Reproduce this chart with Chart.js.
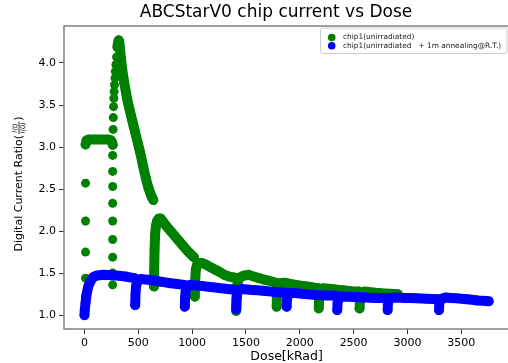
<!DOCTYPE html>
<html>
<head>
<meta charset="utf-8">
<script src="https://cdn.jsdelivr.net/npm/chart.js@4.4.0/dist/chart.umd.min.js"></script>
<style>
  html, body { margin: 0; padding: 0; background: #fff; overflow: hidden; }
  #wrap { width: 514px; height: 363px; }
</style>
</head>
<body>
<div id="wrap"><canvas id="doseChart" width="514" height="363"></canvas></div>
<script>
const chartTitle = 'ABCStarV0 chip current vs Dose';
const seriesLabels = ['chip1(unirradiated)', 'chip1(unirradiated   + 1m annealing@R.T.)'];
const xTicks = [0, 500, 1000, 1500, 2000, 2500, 3000, 3500];
const yTicks = [1.0, 1.5, 2.0, 2.5, 3.0, 3.5, 4.0];

// green runs that read as a solid stroke, null = break between runs
const greenLineDose = [
  10, 20, 40, 100, 160, 220, 245, 255, 262, null,
  306, 312, 318, 324, 330, 338, 350, 370, 395, 420, 445, 470, 495, 520, 545, 570, 595, 620, 640, null,
  646, 648, 651, 656, 663, 675, 692, 708, 725, 760, 800, 840, 880, 920, 960, 1000, 1016, null,
  1025, 1028, 1034, 1046, 1070, 1092, 1130, 1170, 1216, 1260, 1300, 1339, 1380, 1416, null,
  1409, 1412, 1418, 1430, 1447, 1480, 1524, 1570, 1620, 1678, 1740, 1790, 1816, null,
  1785, 1788, 1795, 1815, 1862, 1920, 1980, 2040, 2100, 2170, null,
  2176, 2180, 2190, 2215, 2260, 2330, 2400, 2480, 2550, null,
  2555, 2560, 2570, 2600, 2680, 2760, 2840, 2910
];
const greenLineRatio = [
  3.03, 3.08, 3.09, 3.09, 3.09, 3.09, 3.08, 3.06, 3.03, null,
  4.19, 4.24, 4.27, 4.25, 4.17, 4.06, 3.93, 3.76, 3.58, 3.44, 3.31, 3.18, 3.05, 2.92, 2.77, 2.63, 2.51, 2.42, 2.37, null,
  1.34, 1.55, 1.77, 1.95, 2.06, 2.12, 2.15, 2.15, 2.12, 2.06, 2.00, 1.94, 1.88, 1.82, 1.76, 1.71, 1.69, null,
  1.22, 1.40, 1.54, 1.60, 1.62, 1.62, 1.60, 1.57, 1.54, 1.51, 1.48, 1.46, 1.45, 1.44, null,
  1.05, 1.20, 1.35, 1.42, 1.45, 1.47, 1.48, 1.46, 1.44, 1.42, 1.40, 1.38, 1.37, null,
  1.10, 1.25, 1.35, 1.38, 1.385, 1.37, 1.355, 1.345, 1.335, 1.32, null,
  1.08, 1.20, 1.28, 1.32, 1.315, 1.305, 1.295, 1.285, 1.28, null,
  1.08, 1.20, 1.26, 1.28, 1.27, 1.26, 1.255, 1.25
];
// green isolated samples (fast steps)
const greenDotDose = [
  10, 10, 10, 10, 10, 10,
  262, 262, 262, 262, 262, 262, 262, 262, 262, 264, 266, 268, 270, 273, 276, 279, 283, 287, 292, 298
];
const greenDotRatio = [
  1.10, 1.22, 1.44, 1.75, 2.12, 2.57,
  1.36, 1.50, 1.69, 1.90, 2.12, 2.33, 2.53, 2.71, 2.90, 3.02, 3.21, 3.35, 3.48, 3.58, 3.66, 3.74, 3.82, 3.90, 3.98, 4.07
];
// blue runs, null = break between runs
const blueLineDose = [
  0, 3, 10, 20, 35, 55, 80, 110, 170, 260, 380, 465, null,
  471, 474, 480, 495, 523, 600, 700, 800, 925, null,
  932, 935, 942, 960, 985, 1100, 1200, 1300, 1405, null,
  1410, 1413, 1420, 1440, 1462, 1560, 1660, 1770, 1872, null,
  1878, 1881, 1890, 1910, 1939, 2050, 2150, 2250, 2340, null,
  2348, 2351, 2360, 2380, 2401, 2500, 2600, 2700, 2810, null,
  2816, 2819, 2828, 2850, 2878, 2980, 3080, 3180, 3287, null,
  3293, 3296, 3305, 3330, 3355, 3450, 3550, 3650, 3755
];
const blueLineRatio = [
  1.00, 1.06, 1.15, 1.25, 1.34, 1.40, 1.45, 1.47, 1.48, 1.475, 1.46, 1.44, null,
  1.12, 1.25, 1.35, 1.41, 1.43, 1.42, 1.40, 1.38, 1.36, null,
  1.10, 1.22, 1.31, 1.35, 1.36, 1.345, 1.33, 1.315, 1.30, null,
  1.07, 1.18, 1.27, 1.30, 1.31, 1.30, 1.29, 1.275, 1.265, null,
  1.10, 1.18, 1.24, 1.26, 1.265, 1.25, 1.24, 1.235, 1.23, null,
  1.06, 1.15, 1.20, 1.22, 1.22, 1.215, 1.21, 1.205, 1.20, null,
  1.06, 1.15, 1.19, 1.205, 1.21, 1.205, 1.20, 1.195, 1.19, null,
  1.06, 1.14, 1.18, 1.20, 1.21, 1.20, 1.19, 1.175, 1.165
];

const GREEN = '#008000';
const BLUE = '#0000ff';
const FONT = 'DejaVu Sans';

const toPoints = (xs, ys) => xs.map((x, i) => ({ x: x, y: ys[i] }));

// title, spines, y label with fraction, legend box
const decorPlugin = {
  id: 'decor',
  afterDraw(chart) {
    const { ctx, chartArea: a } = chart;
    ctx.save();
    ctx.fillStyle = '#000';
    ctx.font = '17px "' + FONT + '"';
    ctx.textAlign = 'center';
    ctx.textBaseline = 'middle';
    ctx.fillText(chartTitle, 276, 13);

    ctx.strokeStyle = '#808080';
    ctx.lineWidth = 1.5;
    ctx.strokeRect(a.left, a.top, a.right - a.left, a.bottom - a.top);

    // y label
    ctx.translate(19, 184);
    ctx.rotate(-Math.PI / 2);
    ctx.textAlign = 'left';
    ctx.font = '11px "' + FONT + '"';
    const main = 'Digital Current Ratio(';
    const w1 = ctx.measureText(main).width;
    const w3 = ctx.measureText(')').width;
    ctx.font = 'italic 6.5px "' + FONT + '"';
    const wf = Math.max(ctx.measureText('I(t)').width, ctx.measureText('I(0)').width) + 1;
    let x0 = -(w1 + wf + 2 + w3) / 2;
    ctx.font = '11px "' + FONT + '"';
    ctx.fillText(main, x0, 0);
    ctx.font = 'italic 6.5px "' + FONT + '"';
    ctx.textAlign = 'center';
    const fx = x0 + w1 + 1 + wf / 2;
    ctx.fillText('I(t)', fx, -4);
    ctx.fillText('I(0)', fx, 4.5);
    ctx.fillRect(x0 + w1 + 1, -0.4, wf, 0.8);
    ctx.textAlign = 'left';
    ctx.font = '11px "' + FONT + '"';
    ctx.fillText(')', x0 + w1 + wf + 2, 0);
    ctx.restore();

    // legend
    ctx.save();
    const bx = 320.5, by = 28, bw = 186.5, bh = 25.5;
    ctx.fillStyle = 'rgba(255,255,255,0.8)';
    ctx.strokeStyle = '#cccccc';
    ctx.lineWidth = 1;
    ctx.beginPath();
    ctx.roundRect(bx, by, bw, bh, 2);
    ctx.fill();
    ctx.stroke();
    const colors = [GREEN, BLUE];
    ctx.font = '7.4px "' + FONT + '"';
    ctx.textBaseline = 'middle';
    seriesLabels.forEach((lab, i) => {
      const cy = 37.5 + i * 8.2;
      ctx.fillStyle = colors[i];
      ctx.beginPath();
      ctx.arc(331.7, cy, 3.8, 0, Math.PI * 2);
      ctx.fill();
      ctx.fillStyle = '#222';
      ctx.fillText(lab, 343, cy);
    });
    ctx.restore();
  }
};

const lineStyle = (color) => ({
  showLine: true,
  borderColor: color,
  backgroundColor: color,
  borderWidth: 10,
  borderCapStyle: 'round',
  borderJoinStyle: 'round',
  pointRadius: 4.8,
  pointBorderWidth: 0,
  pointBackgroundColor: color,
  pointBorderColor: color,
  pointHoverRadius: 0,
  spanGaps: false,
  tension: 0.001
});

new Chart(document.getElementById('doseChart'), {
  type: 'scatter',
  data: {
    datasets: [
      Object.assign({ label: seriesLabels[1], data: toPoints(blueLineDose, blueLineRatio), order: 0 }, lineStyle(BLUE)),
      Object.assign({ label: seriesLabels[0], data: toPoints(greenLineDose, greenLineRatio), order: 1 }, lineStyle(GREEN)),
      {
        label: seriesLabels[0],
        data: toPoints(greenDotDose, greenDotRatio),
        order: 2,
        showLine: false,
        pointRadius: 4.5,
        pointBorderWidth: 0,
        pointBackgroundColor: GREEN,
        pointBorderColor: GREEN
      }
    ]
  },
  options: {
    responsive: false,
    animation: false,
    devicePixelRatio: 1,
    layout: { padding: { left: 0, right: 2, top: 26, bottom: 0 } },
    plugins: {
      legend: { display: false },
      tooltip: { enabled: false },
      title: { display: false }
    },
    scales: {
      x: {
        type: 'linear',
        min: -190,
        max: 3945,
        afterBuildTicks: s => { s.ticks = xTicks.map(v => ({ value: v })); },
        afterFit: s => { s.height = 34; },
        grid: { drawOnChartArea: false, drawTicks: true, tickLength: 5, color: '#333' },
        border: { display: false },
        ticks: { color: '#000', font: { family: FONT, size: 11 }, padding: 3, maxRotation: 0, autoSkip: false, callback: v => String(v) },
        title: { display: true, text: 'Dose[kRad]', color: '#000', font: { family: FONT, size: 12.5, lineHeight: 1 }, padding: 0 }
      },
      y: {
        type: 'linear',
        min: 0.835,
        max: 4.44,
        afterBuildTicks: s => { s.ticks = yTicks.map(v => ({ value: v })); },
        afterFit: s => { s.width = 64; },
        grid: { drawOnChartArea: false, drawTicks: true, tickLength: 5, color: '#333' },
        border: { display: false },
        ticks: { color: '#000', font: { family: FONT, size: 11 }, padding: 3, callback: v => v.toFixed(1) }
      }
    }
  },
  plugins: [decorPlugin]
});
</script>
</body>
</html>
